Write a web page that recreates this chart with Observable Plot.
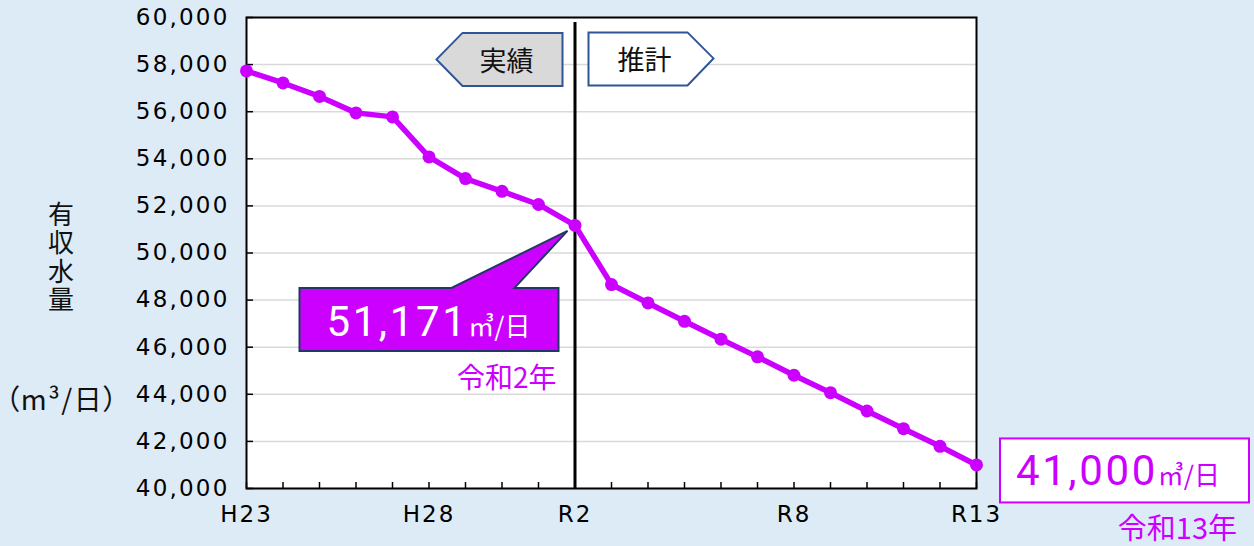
<!DOCTYPE html>
<html><head><meta charset="utf-8">
<script src="https://cdn.jsdelivr.net/npm/d3@7"></script>
<script src="https://cdn.jsdelivr.net/npm/@observablehq/plot@0.6"></script>
<style>
html,body{margin:0;padding:0;background:#ddebf7;}
#chart{width:1254px;height:546px;overflow:hidden;}
svg{overflow:visible;}
g[aria-label="y-axis tick label"] text{letter-spacing:2.2px;}
g[aria-label="x-axis tick label"] text{letter-spacing:2px;}
</style></head><body><div id="chart"></div>
<script>
// ---- data ----
const years = ["H23","H24","H25","H26","H27","H28","H29","H30","R1","R2","R3","R4","R5","R6","R7","R8","R9","R10","R11","R12","R13"];
const values = [57730,57220,56650,55950,55780,54080,53160,52620,52060,51171,48660,47880,47100,46340,45590,44810,44070,43290,42540,41790,41000];
const xTickLabels = ["H23","H28","R2","R8","R13"];
const yTicks = [40000,42000,44000,46000,48000,50000,52000,54000,56000,58000,60000];
const splitYear = "R2";
const labelLevel = 58200;
const actualLabel = "実績";
const forecastLabel = "推計";
const startCallout = {year: "R2", value: 51171, text: "51,171", era: "令和2年"};
const endCallout = {year: "R13", value: 41000, text: "41,000", era: "令和13年"};
const unitText = "㎥/日";
const yTitle = "有収水量";
const yUnit = "（m³/日）";

const data = years.map((y, i) => ({year: y, value: values[i]}));
const magenta = "#cc00ff";
const cjk = "'Noto Sans CJK JP', sans-serif";
const num = "Roboto, 'Noto Sans CJK JP', sans-serif";

function annotations(index, scales, vals, dims) {
  const x = scales.x, y = scales.y;
  const g = d3.create("svg:g");
  const xs = x(splitYear), ly = y(labelLevel);
  // 実績 (left-pointing)
  g.append("path")
    .attr("d", `M${xs-138},${ly} L${xs-112},${ly-26.5} L${xs-12},${ly-26.5} L${xs-12},${ly+26.5} L${xs-112},${ly+26.5} Z`)
    .attr("fill", "#d9d9d9").attr("stroke", "#2f5597").attr("stroke-width", 2);
  g.append("text").attr("x", xs-68).attr("y", ly).attr("text-anchor", "middle").attr("dominant-baseline", "central")
    .attr("font-family", cjk).attr("font-size", 27).attr("fill", "#111").text(actualLabel);
  // 推計 (right-pointing)
  g.append("path")
    .attr("d", `M${xs+14},${ly-27} L${xs+113},${ly-27} L${xs+139},${ly-1} L${xs+113},${ly+26} L${xs+14},${ly+26} Z`)
    .attr("fill", "white").attr("stroke", "#2f5597").attr("stroke-width", 2);
  g.append("text").attr("x", xs+70).attr("y", ly-1).attr("text-anchor", "middle").attr("dominant-baseline", "central")
    .attr("font-family", cjk).attr("font-size", 27).attr("fill", "#111").text(forecastLabel);

  // start callout (magenta speech box)
  {
    const px = x(startCallout.year), py = y(startCallout.value);
    const L = px-275, R = px-16, T = py+63, B = py+126;
    g.append("path")
      .attr("d", `M${L},${T} L${px-123},${T} L${px-7},${py+6} L${px-60},${T} L${R},${T} L${R},${B} L${L},${B} Z`)
      .attr("fill", magenta).attr("stroke", "#1f3864").attr("stroke-width", 2);
    const t = g.append("text").attr("x", px-146).attr("y", py+111).attr("text-anchor", "middle")
      .attr("fill", "white").attr("font-family", num);
    t.append("tspan").attr("font-size", 42).attr("letter-spacing", "2.6px").text(startCallout.text);
    t.append("tspan").attr("font-size", 26).attr("font-family", cjk).text(unitText);
    g.append("text").attr("x", px-18).attr("y", py+163).attr("text-anchor", "end")
      .attr("fill", magenta).attr("font-family", cjk).attr("font-size", 28).text(startCallout.era);
  }
  // end callout (white box)
  {
    const px = x(endCallout.year), py = y(endCallout.value);
    g.append("rect").attr("x", px+24).attr("y", py-26).attr("width", 249).attr("height", 64)
      .attr("fill", "white").attr("stroke", magenta).attr("stroke-width", 2);
    const t = g.append("text").attr("x", px+142).attr("y", py+21).attr("text-anchor", "middle")
      .attr("fill", magenta).attr("font-family", num);
    t.append("tspan").attr("font-size", 42).attr("letter-spacing", "2.6px").text(endCallout.text);
    t.append("tspan").attr("font-size", 26).attr("font-family", cjk).text(unitText);
    g.append("text").attr("x", px+261).attr("y", py+75).attr("text-anchor", "end")
      .attr("fill", magenta).attr("font-family", cjk).attr("font-size", 29).text(endCallout.era);
  }
  // y-axis title (vertical)
  g.append("text").attr("x", 61).attr("y", 258).attr("text-anchor", "middle")
    .attr("writing-mode", "vertical-rl").attr("letter-spacing", "2.5px")
    .attr("font-family", cjk).attr("font-size", 26).attr("fill", "#111").text(yTitle);
  g.append("text").attr("x", 62).attr("y", y(44000)+4).attr("text-anchor", "middle").attr("dominant-baseline", "central")
    .attr("font-family", cjk).attr("font-size", 28).attr("letter-spacing", "1.5px")
    .style("font-feature-settings", "'palt'").attr("fill", "#111").text(yUnit);
  return g.node();
}

const chart = Plot.plot({
  width: 1254,
  height: 546,
  marginLeft: 246,
  marginRight: 278,
  marginTop: 17,
  marginBottom: 58,
  style: {background: "transparent", fontFamily: "'DejaVu Sans', sans-serif", overflow: "visible"},
  x: {type: "point", domain: years, padding: 0, round: false},
  y: {domain: [40000, 60000]},
  marks: [
    Plot.frame({fill: "white", stroke: null}),
    Plot.gridY(yTicks, {stroke: "#d9d9d9", strokeOpacity: 1, strokeWidth: 1.5}),
    Plot.axisY({ticks: yTicks, tickSize: -7, tickFormat: () => "", stroke: "black", strokeWidth: 1.5, label: null}),
    Plot.axisY({ticks: yTicks, tickSize: 0, tickPadding: 17, tickFormat: d3.format(","), fontSize: 23, fill: "#000", label: null}),
    Plot.axisX({ticks: years, tickSize: -6, tickFormat: () => "", stroke: "black", strokeWidth: 1.5, label: null}),
    Plot.axisX({ticks: xTickLabels, tickSize: 0, tickPadding: 17, fontSize: 23, fill: "#000", label: null}),
    Plot.ruleX([splitYear], {stroke: "black", strokeWidth: 3, insetTop: 5}),
    Plot.frame({stroke: "black", strokeWidth: 2}),
    Plot.line(data, {x: "year", y: "value", stroke: magenta, strokeWidth: 5.5}),
    Plot.dot(data, {x: "year", y: "value", r: 6.5, fill: magenta}),
    annotations
  ]
});
document.getElementById("chart").appendChild(chart);
</script>
</body></html>
